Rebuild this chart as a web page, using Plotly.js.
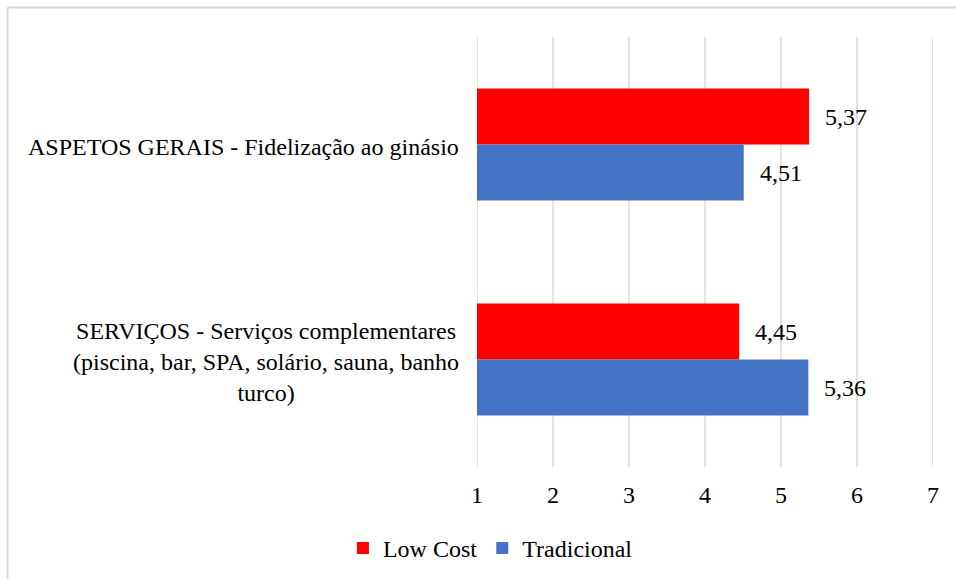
<!DOCTYPE html>
<html>
<head>
<meta charset="utf-8">
<script src="https://cdn.plot.ly/plotly-3.0.1.min.js"></script>
<style>html,body{margin:0;padding:0;background:#fff;}#chart{width:956px;height:579px;}</style>
</head>
<body>
<div id="chart"></div>
<script>
const categories = [
  "ASPETOS GERAIS - Fidelização ao ginásio",
  "SERVIÇOS - Serviços complementares<br>(piscina, bar, SPA, solário, sauna, banho<br>turco)"
];
const seriesNames = ["Low Cost", "Tradicional"];
const lowCost = [5.37, 4.45];
const tradicional = [4.51, 5.36];
const xTicks = [1, 2, 3, 4, 5, 6, 7];

const FONT = "Liberation Serif";
const colors = ["#FF0000", "#4472C4"];
const seriesValues = [lowCost, tradicional];

const traces = seriesValues.map((vals, i) => ({
  type: "bar",
  orientation: "h",
  name: seriesNames[i],
  y: categories,
  x: vals,
  marker: {color: colors[i]},
  hoverinfo: "skip"
}));

const annotations = [];
categories.forEach(c => {
  annotations.push({
    xref: "paper", yref: "y", x: 0, y: c,
    xanchor: "right", yanchor: "middle", align: "center",
    xshift: -16, yshift: -2, showarrow: false, text: c,
    font: {family: FONT, size: 24, color: "#000"}
  });
});
seriesValues.forEach((vals, i) => {
  vals.forEach((v, j) => {
    annotations.push({
      xref: "x", yref: "y", x: v, y: categories[j],
      xanchor: "left", yanchor: "middle",
      xshift: 14, yshift: i === 0 ? 28 : -28,
      showarrow: false, text: v.toFixed(2).replace(".", ","),
      font: {family: FONT, size: 24, color: "#000"}
    });
  });
});

const shapes = xTicks.map(t => ({
  type: "line", xref: "x", yref: "paper", x0: t, x1: t, y0: 0, y1: 1,
  layer: "below", line: {color: "#d9d9d9", width: 1.5}
}));
shapes.push(
  {type: "line", xref: "paper", yref: "paper", x0: -1.0296, x1: -1.0296, y0: -0.4, y1: 1.0686,
   line: {color: "#d9d9d9", width: 2}},
  {type: "line", xref: "paper", yref: "paper", x0: -1.0296, x1: 1.1, y0: 1.0686, y1: 1.0686,
   line: {color: "#d9d9d9", width: 2}}
);

const layout = {
  width: 956, height: 579,
  margin: {l: 477, r: 23, t: 37, b: 112, pad: 0},
  paper_bgcolor: "#fff", plot_bgcolor: "#fff",
  font: {family: FONT, size: 24, color: "#000"},
  barmode: "group", bargap: 0.48, bargroupgap: 0,
  xaxis: {
    range: [1, 7], tickvals: xTicks, ticktext: xTicks.map(String),
    showgrid: false, zeroline: false, showline: false, ticks: "",
    ticklabelstandoff: 11,
    tickfont: {family: FONT, size: 24, color: "#000"}
  },
  yaxis: {
    type: "category", autorange: "reversed",
    showgrid: false, zeroline: false, showline: false,
    showticklabels: false, ticks: ""
  },
  showlegend: true,
  legend: {
    orientation: "h", xref: "container", yref: "container",
    x: 0.513, y: 0.053, xanchor: "center", yanchor: "middle",
    font: {family: FONT, size: 24, color: "#000"},
    traceorder: "normal"
  },
  annotations: annotations,
  shapes: shapes
};

Plotly.newPlot("chart", traces, layout, {staticPlot: true, displayModeBar: false});
</script>
</body>
</html>
